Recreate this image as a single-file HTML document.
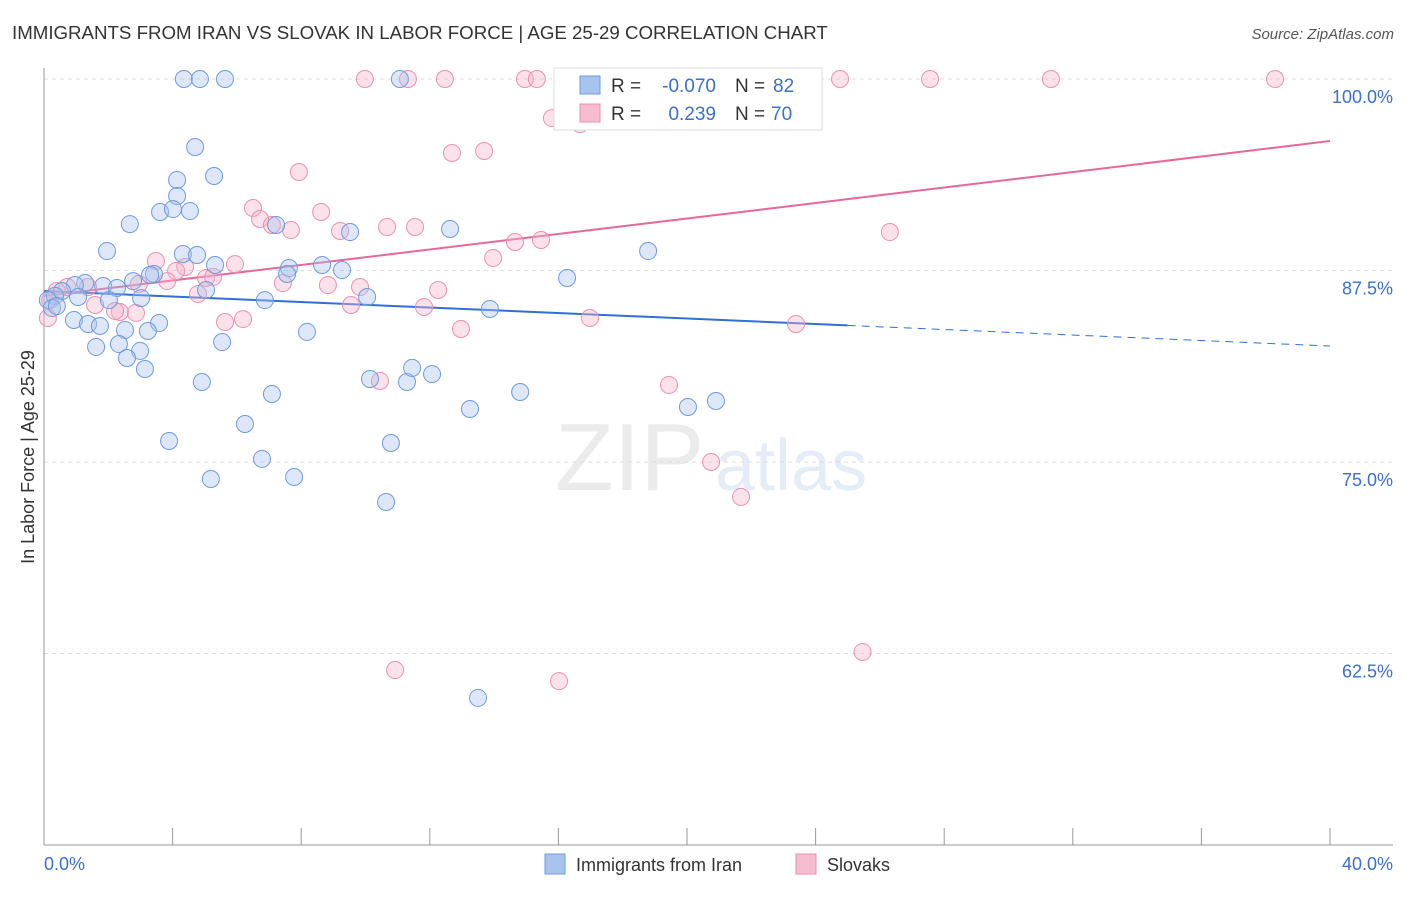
<!DOCTYPE html>
<html><head><meta charset="utf-8"><style>
body{margin:0;background:#fff;font-family:"Liberation Sans",sans-serif;}
svg text{font-family:"Liberation Sans",sans-serif;}
</style></head><body>
<svg id="chart" width="1406" height="892" xmlns="http://www.w3.org/2000/svg">
<text x="12" y="39" font-size="18.7" fill="#333">IMMIGRANTS FROM IRAN VS SLOVAK IN LABOR FORCE | AGE 25-29 CORRELATION CHART</text>
<text x="1394" y="39" font-size="15" fill="#555" text-anchor="end" font-style="italic">Source: ZipAtlas.com</text>
<g opacity="0.16">
<text x="555" y="490" font-size="96" font-family="Liberation Serif,serif" fill="#888">ZIP</text>
<text x="715" y="490" font-size="72" fill="#5b8fd6">atlas</text>
</g>
<text transform="translate(34,457) rotate(-90)" font-size="18" fill="#333" text-anchor="middle">In Labor Force | Age 25-29</text>
<g id="grid"></g><g id="axes"></g><g id="lines"></g><g id="pts"></g>
<g>
<rect x="554" y="68" width="268" height="62" fill="#fff" stroke="#ddd"/>
<rect x="580" y="76" width="20" height="18" fill="#a9c4ec" stroke="#6d9be0"/>
<text x="611" y="92" font-size="19" fill="#333">R =</text>
<text x="716" y="92" font-size="19" fill="#3b6fd0" text-anchor="end">-0.070</text>
<text x="735" y="92" font-size="19" fill="#333">N =</text>
<text x="773" y="92" font-size="19" fill="#3b6fd0">82</text>
<rect x="580" y="104" width="20" height="18" fill="#f6bccf" stroke="#eb8fb0"/>
<text x="611" y="120" font-size="19" fill="#333">R =</text>
<text x="716" y="120" font-size="19" fill="#3b6fd0" text-anchor="end">0.239</text>
<text x="735" y="120" font-size="19" fill="#333">N =</text>
<text x="771" y="120" font-size="19" fill="#3b6fd0">70</text>
</g>
<g>
<rect x="545" y="854" width="20" height="20" fill="#a9c4ec" stroke="#6d9be0"/>
<text x="576" y="871" font-size="18" fill="#333">Immigrants from Iran</text>
<rect x="796" y="854" width="20" height="20" fill="#f6bccf" stroke="#eb8fb0"/>
<text x="827" y="871" font-size="18" fill="#333">Slovaks</text>
</g>
</svg>
<script>
const blueX=[4.35,4.85,5.63,11.07,18.44,21.59,4.70,5.29,4.14,4.14,3.61,4.01,4.54,2.67,1.96,4.32,4.76,9.52,12.63,7.22,18.79,5.32,7.62,8.65,9.27,7.56,3.42,3.30,2.77,1.84,2.27,1.28,0.96,0.56,0.34,0.12,0.25,0.40,1.06,2.02,3.02,5.04,6.87,10.05,13.87,16.27,0.93,1.37,1.74,3.58,2.52,3.23,8.18,5.54,1.62,2.33,2.99,2.58,3.14,4.91,7.09,10.14,11.29,11.45,12.07,14.81,13.25,20.03,20.90,3.89,6.25,10.79,6.78,5.19,7.78,10.64,13.50];
const blueY=[100,100,100,100,100,100,95.56,93.67,93.41,92.36,91.32,91.51,91.38,90.53,88.77,88.58,88.51,90.01,90.21,90.47,88.77,87.86,87.66,87.86,87.53,87.27,87.27,87.21,86.81,86.49,86.36,86.68,86.55,86.16,85.84,85.57,85.05,85.18,85.77,85.57,85.70,86.23,85.57,85.77,84.99,87.01,84.27,84.01,83.88,84.07,83.62,83.55,83.49,82.83,82.51,82.70,82.25,81.79,81.07,80.22,79.44,80.42,80.22,81.14,80.74,79.57,78.46,78.59,78.98,76.37,77.48,76.24,75.20,73.89,74.02,72.39,59.60];
const pinkX=[9.98,11.32,12.47,14.96,15.33,16.36,21.28,23.61,24.76,27.56,31.32,38.29,15.80,16.67,12.69,13.69,7.93,6.50,6.72,8.62,7.09,7.68,9.21,10.67,11.54,14.65,15.46,26.31,13.97,3.48,4.39,4.11,5.94,5.04,5.26,3.83,2.95,1.37,0.72,0.40,0.19,0.12,1.59,2.36,2.86,2.21,4.79,7.43,8.83,9.83,12.26,9.55,11.82,6.19,5.63,16.98,23.39,12.97,10.45,19.44,20.75,21.68,25.46,10.92,16.02];
const pinkY=[100,100,100,100,100,100,100,100,100,100,100,100,97.45,97.06,95.17,95.30,93.93,91.58,90.86,91.32,90.47,90.14,90.08,90.34,90.34,89.36,89.49,90.01,88.32,88.12,87.73,87.47,87.92,87.01,87.08,86.81,86.62,86.42,86.42,86.16,85.57,84.40,85.25,84.79,84.73,84.86,85.97,86.68,86.55,86.42,86.23,85.25,85.12,84.33,84.14,84.40,84.01,83.68,80.29,80.03,75.00,72.72,62.60,61.42,60.70];
const yTicks=[100,87.5,75,62.5];
const yTickLabels=["100.0%","87.5%","75.0%","62.5%"];
const xTicks=[0,4,8,12,16,20,24,28,32,36,40];
const blueTrend=[86.16,82.57]; const blueSolidEnd=25.0;
const pinkTrend=[85.84,95.95];
const NS="http://www.w3.org/2000/svg";
const X=v=>44+v*32.15, Y=v=>79+(100-v)*15.32;
function mk(t,a,p){const e=document.createElementNS(NS,t);for(const k in a)e.setAttribute(k,a[k]);p.appendChild(e);return e;}
const grid=document.getElementById('grid'),axes=document.getElementById('axes'),lines=document.getElementById('lines'),pts=document.getElementById('pts');
yTicks.forEach((v,i)=>{
 const l=mk('line',{x1:44,x2:1393,y1:Y(v),y2:Y(v),stroke:'#ddd','stroke-dasharray':'4,4'},grid);
 
 
 const t=mk('text',{x:1393,y:Y(v)+24,'font-size':18,fill:'#3b6fd0','text-anchor':'end'},axes);t.textContent=yTickLabels[i];
 
 
});
let a=mk('line',{x1:44,x2:44,y1:68,y2:845,stroke:'#999'},axes);


a=mk('line',{x1:44,x2:1393,y1:845,y2:845,stroke:'#999'},axes);


xTicks.forEach(v=>{const t=mk('line',{x1:X(v),x2:X(v),y1:828,y2:845,stroke:'#999'},axes);
 
 });
let t=mk('text',{x:44,y:870,'font-size':18,fill:'#3b6fd0'},axes);t.textContent='0.0%';


t=mk('text',{x:1393,y:870,'font-size':18,fill:'#3b6fd0','text-anchor':'end'},axes);t.textContent='40.0%';


function draw(xs,ys,fill,stroke,name){xs.forEach((x,i)=>{const c=mk('circle',{cx:X(x),cy:Y(ys[i]),r:8.5,fill:fill,'fill-opacity':0.4,stroke:stroke,'stroke-width':1},pts);
 
 });}
draw(pinkX,pinkY,'#f6b6cb','#eb8fb0','slovak-point');
draw(blueX,blueY,'#a9c4ec','#6d9be0','iran-point');
const bAt=x=>blueTrend[0]+(blueTrend[1]-blueTrend[0])*x/40;
let l=mk('line',{x1:X(0),y1:Y(bAt(0)),x2:X(blueSolidEnd),y2:Y(bAt(blueSolidEnd)),stroke:'#2f6fd6','stroke-width':2},lines);


l=mk('line',{x1:X(blueSolidEnd),y1:Y(bAt(blueSolidEnd)),x2:X(40),y2:Y(bAt(40)),stroke:'#2f6fd6','stroke-width':1,'stroke-dasharray':'8,6'},lines);


l=mk('line',{x1:X(0),y1:Y(pinkTrend[0]),x2:X(40),y2:Y(pinkTrend[1]),stroke:'#e8679a','stroke-width':2},lines);


</script>
</body></html>
